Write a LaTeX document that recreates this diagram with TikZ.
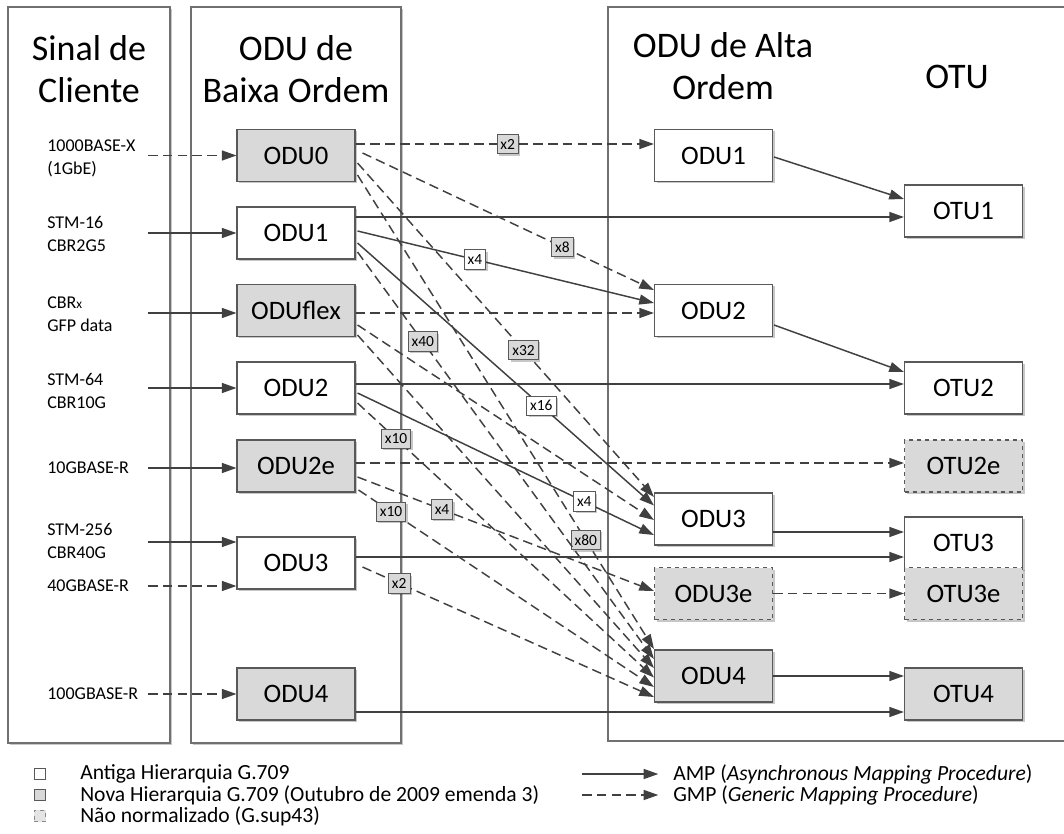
\documentclass[tikz,border=0pt]{standalone}
\usepackage{fontspec}
\setmainfont{Carlito}
\usetikzlibrary{arrows.meta,calc,shadows}

\definecolor{linecol}{HTML}{404040}
\definecolor{boxline}{HTML}{595959}
\definecolor{newgray}{HTML}{D9D9D9}
\definecolor{framecol}{HTML}{707070}

\newcommand\hdrfont{\fontsize{27}{31.5}\selectfont}
\newcommand\unitfont{\fontsize{20}{24}\selectfont}
\newcommand\cltfont{\fontsize{13.5}{17}\selectfont}
\newcommand\multfont{\fontsize{11.6}{13}\selectfont}
\newcommand\lgdfont{\fontsize{16.2}{19}\selectfont}

\begin{document}
\begin{tikzpicture}[x=0.75pt,y=-0.75pt,
  softshadow/.style={drop shadow={shadow xshift=1.5pt,shadow yshift=-1.5pt,fill=black,opacity=0.22}},
  frame/.style={draw=framecol,line width=0.9pt,fill=white,softshadow},
  unit/.style={draw=boxline,line width=0.8pt,fill=white,minimum width=88.5pt,minimum height=39pt,inner sep=0pt,font=\unitfont,softshadow},
  newunit/.style={unit,fill=newgray},
  nonstd/.style={unit,fill=newgray,dashed},
  hdr/.style={align=center,font=\hdrfont,inner sep=0pt},
  client/.style={anchor=west,align=left,font=\cltfont,inner sep=0pt},
  amp/.style={draw=linecol,line width=1.1pt,-{Triangle[length=11pt,width=7.5pt]}},
  gmp/.style={amp,dash pattern=on 7.2pt off 3.9pt},
  mult/.style={draw=boxline,solid,line width=0.7pt,fill=white,text=black,font=\multfont,inner xsep=2.6pt,inner ysep=0pt,minimum height=14.5pt,softshadow},
  multg/.style={mult,fill=newgray},
  lgbox/.style={draw=boxline,line width=0.7pt,minimum size=8.5pt,inner sep=0pt},
  lgtext/.style={anchor=west,font=\lgdfont,inner sep=0pt},
]
\useasboundingbox (0,0) rectangle (1064,834);

% column frames
\draw[frame] (8,7) rectangle (170,743);
\draw[frame] (191,7) rectangle (401,743);
\draw[draw=framecol,line width=0.9pt] (1070,7) -- (608,7) -- (608,741) -- (1070,741);

% column headings
\node[hdr] (hClient) at (89,69) {Sinal de\\Cliente};
\node[hdr] (hLow) at (296,69) {ODU de\\Baixa Ordem};
\node[hdr] (hHigh) at (723,66) {ODU de Alta\\Ordem};
\node[hdr] (hOtu) at (957,77) {OTU};

% client signals
\node[client] (s0) at (47,158.5) {1000BASE-X\\(1GbE)};
\node[client] (s1) at (47,234) {STM-16\\CBR2G5};
\node[client] (s2) at (47,314) {CBR{\fontsize{10}{12}\selectfont x}\\GFP data};
\node[client] (s3) at (47,391) {STM-64\\CBR10G};
\node[client] (s4) at (47,468) {10GBASE-R};
\node[client] (s5) at (47,541) {STM-256\\CBR40G};
\node[client] (s6) at (47,586) {40GBASE-R};
\node[client] (s7) at (47,694) {100GBASE-R};

\coordinate (k0) at (148,155.5);
\coordinate (k1) at (148,233);
\coordinate (k2) at (148,313);
\coordinate (k3) at (148,388);
\coordinate (k4) at (148,468);
\coordinate (k5) at (148,542);
\coordinate (k6) at (148,586);
\coordinate (k7) at (148,694);

% low order ODUs
\node[newunit] (lo0) at (296,155.5) {ODU0};
\node[unit] (lo1) at (296,233) {ODU1};
\node[newunit] (loflex) at (296,310.5) {ODUflex};
\node[unit] (lo2) at (296,388) {ODU2};
\node[newunit] (lo2e) at (296,466) {ODU2e};
\node[unit] (lo3) at (296,563) {ODU3};
\node[newunit] (lo4) at (296,694) {ODU4};

% high order ODUs
\node[unit] (ho1) at (713.5,155.5) {ODU1};
\node[unit] (ho2) at (713.5,310.5) {ODU2};
\node[unit] (ho3) at (713.5,519) {ODU3};
\node[nonstd] (ho3e) at (713.5,593.5) {ODU3e};
\node[newunit] (ho4) at (713.5,676) {ODU4};

% OTUs
\node[unit] (otu1) at (963.5,211) {OTU1};
\node[unit] (otu2) at (963.5,388) {OTU2};
\node[nonstd] (otu2e) at (963.5,466) {OTU2e};
\node[unit] (otu3) at (963.5,543) {OTU3};
\node[nonstd] (otu3e) at (963.5,593.5) {OTU3e};
\node[newunit] (otu4) at (963.5,694) {OTU4};

% client -> low order
\draw[gmp] (k0) -- (lo0.west);
\draw[amp] (k1) -- (lo1.west);
\draw[amp] (k2) -- ($(loflex.west)+(0,2.5)$);
\draw[amp] (k3) -- (lo2.west);
\draw[amp] (k4) -- ($(lo2e.west)+(0,2)$);
\draw[amp] (k5) -- ($(lo3.west)+(0,-21)$);
\draw[gmp] (k6) -- ($(lo3.west)+(0,23)$);
\draw[gmp] (k7) -- (lo4.west);

% ODU0
\draw[gmp] ($(lo0.east)+(0,-11.5)$) -- node[multg,pos=0.51]{x2} ($(ho1.west)+(0,-11.5)$);
\draw[gmp] ($(lo0.east)+(7,-2.5)$) -- node[multg,pos=0.686]{x8} ($(ho2.west)+(0,-20.5)$);
\draw[gmp] ($(lo0.east)+(2,7.5)$) -- node[multg,pos=0.56]{x32} ($(ho3.west)+(0,-22)$);
\draw[gmp] ($(lo0.east)+(2,19.5)$) -- node[multg,pos=0.77]{x80} ($(ho4.west)+(0,-27)$);

% ODU1
\draw[amp] ($(lo1.east)+(0,-16)$) -- ($(otu1.west)+(0,6)$);
\draw[amp] ($(lo1.east)+(2,-2)$) -- node[mult,pos=0.396]{x4} ($(ho2.west)+(0,-7.5)$);
\draw[amp] ($(lo1.east)+(2,10)$) -- node[mult,pos=0.62]{x16} ($(ho3.west)+(0,-13.5)$);
\draw[gmp] ($(lo1.east)+(2,19)$) -- node[multg,pos=0.22]{x40} ($(ho4.west)+(0,-17)$);

% ODUflex
\draw[gmp] ($(loflex.east)+(0,2.5)$) -- ($(ho2.west)+(0,2.5)$);
\draw[gmp] ($(loflex.east)+(2,14.5)$) -- ($(ho3.west)+(0,1)$);
\draw[gmp] ($(loflex.east)+(2,24.5)$) -- ($(ho4.west)+(0,-8)$);

% ODU2
\draw[amp] ($(lo2.east)+(0,-4)$) -- ($(otu2.west)+(0,-4)$);
\draw[amp] ($(lo2.east)+(2,5)$) -- node[mult,pos=0.765]{x4} ($(ho3.west)+(0,16)$);
\draw[gmp] ($(lo2.east)+(2,15)$) -- node[multg,pos=0.13]{x10} ($(ho4.west)+(0,1.5)$);

% ODU2e
\draw[gmp] ($(lo2e.east)+(0,-3)$) -- ($(otu2e.west)+(0,-3)$);
\draw[gmp] ($(lo2e.east)+(2,11)$) -- node[multg,pos=0.285]{x4} ($(ho3e.west)+(0,-2.5)$);
\draw[gmp] ($(lo2e.east)+(3,24)$) -- node[multg,pos=0.11]{x10} ($(ho4.west)+(0,11)$);

% ODU3
\draw[amp] ($(lo3.east)+(0,-6)$) -- ($(otu3.west)+(0,14)$);
\draw[gmp] ($(lo3.east)+(7,4)$) -- node[multg,pos=0.126]{x2} ($(ho4.west)+(0,21)$);

% ODU4
\draw[amp] ($(lo4.east)+(0,18)$) -- ($(otu4.west)+(0,18)$);

% high order -> OTU
\draw[amp] ($(ho1.east)+(1,1.5)$) -- ($(otu1.west)+(0,-12)$);
\draw[amp] ($(ho2.east)+(1,14.5)$) -- ($(otu2.west)+(0,-16)$);
\draw[amp] ($(ho3.east)+(0,13)$) -- ($(otu3.west)+(0,-11)$);
\draw[gmp] (ho3e.east) -- (otu3e.west);
\draw[amp] (ho4.east) -- ($(otu4.west)+(0,-18)$);

% legend
\node[lgbox,fill=white] (lg1) at (40,774) {};
\node[lgbox,fill=newgray] (lg2) at (40,795) {};
\node[lgbox,fill=newgray!70,draw=boxline!70,dashed,line width=0.5pt] (lg3) at (40,816) {};
\node[lgtext] (lt1) at (80,774) {Antiga Hierarquia G.709};
\node[lgtext] (lt2) at (80,795) {Nova Hierarquia G.709 (Outubro de 2009 emenda 3)};
\node[lgtext] (lt3) at (80,816) {Não normalizado (G.sup43)};

\coordinate (la) at (582,774);
\coordinate (lg) at (582,795);
\node[lgtext] (lt4) at (673,774) {AMP (\textit{Asynchronous Mapping Procedure})};
\node[lgtext] (lt5) at (673,795) {GMP (\textit{Generic Mapping Procedure})};
\draw[amp] (la) -- ([xshift=-11pt]lt4.west);
\draw[gmp] (lg) -- ([xshift=-11pt]lt5.west);
\end{tikzpicture}
\end{document}
